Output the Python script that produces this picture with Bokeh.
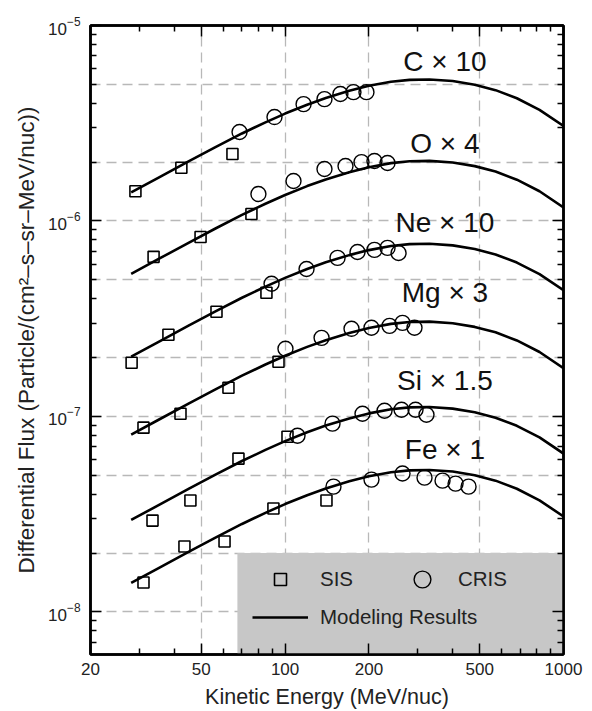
from bokeh.plotting import figure
from bokeh.models import (ColumnDataSource, FixedTicker, LogAxis, BoxAnnotation, Legend,
                          LegendItem, CustomJSTickFormatter, LogTickFormatter, Range1d)
from bokeh.core.properties import value
from bokeh.embed import file_html
from bokeh.resources import INLINE

FONT = "Liberation Sans"

# ---------------- data ----------------
species = ["C", "O", "Ne", "Mg", "Si", "Fe"]
species_labels = ["C \u00d7 10", "O \u00d7 4", "Ne \u00d7 10", "Mg \u00d7 3", "Si \u00d7 1.5", "Fe \u00d7 1"]

# SIS measurements (squares)
sis_energy = {
    "C":  [29.0, 42.4, 64.7],
    "O":  [33.7, 49.7, 75.7],
    "Ne": [28.1, 38.1, 56.7, 85.7],
    "Mg": [31.0, 42.1, 62.6, 94.7],
    "Si": [33.4, 45.7, 68.0, 102.0],
    "Fe": [31.0, 43.5, 60.6, 90.8, 140.8],
}
sis_flux = {
    "C":  [1.42e-6, 1.87e-6, 2.20e-6],
    "O":  [6.55e-7, 8.28e-7, 1.086e-6],
    "Ne": [1.88e-7, 2.615e-7, 3.43e-7, 4.29e-7],
    "Mg": [8.76e-8, 1.032e-7, 1.401e-7, 1.903e-7],
    "Si": [2.93e-8, 3.71e-8, 6.08e-8, 7.87e-8],
    "Fe": [1.413e-8, 2.16e-8, 2.29e-8, 3.38e-8, 3.71e-8],
}

# CRIS measurements (circles)
cris_energy = {
    "C":  [68.6, 91.6, 116.5, 138.5, 158.0, 176.0, 196.0],
    "O":  [80.2, 107.2, 138.5, 164.8, 188.1, 209.4, 233.3],
    "Ne": [89.4, 119.4, 154.3, 182.0, 209.4, 233.3, 255.6],
    "Mg": [100.3, 135.2, 173.2, 204.3, 237.2, 264.1, 291.6],
    "Si": [110.8, 148.0, 189.7, 227.6, 261.9, 294.1, 322.0],
    "Fe": [149.2, 204.3, 264.1, 316.8, 367.7, 409.6, 456.0],
}
cris_flux = {
    "C":  [2.85e-6, 3.40e-6, 3.96e-6, 4.20e-6, 4.46e-6, 4.56e-6, 4.56e-6],
    "O":  [1.374e-6, 1.60e-6, 1.843e-6, 1.91e-6, 2.00e-6, 2.025e-6, 1.978e-6],
    "Ne": [4.77e-7, 5.68e-7, 6.47e-7, 6.94e-7, 7.11e-7, 7.28e-7, 6.86e-7],
    "Mg": [2.218e-7, 2.523e-7, 2.806e-7, 2.84e-7, 2.906e-7, 3.01e-7, 2.84e-7],
    "Si": [7.96e-8, 9.18e-8, 1.032e-7, 1.069e-7, 1.082e-7, 1.082e-7, 1.020e-7],
    "Fe": [4.37e-8, 4.75e-8, 5.10e-8, 4.86e-8, 4.69e-8, 4.53e-8, 4.37e-8],
}

# Modeling results (solid curves)
model_energy = [28, 35, 45, 56, 70, 85, 100, 120, 140, 170,
                200, 240, 280, 330, 400, 480, 570, 680, 820, 1000]
model_flux = {
    "C":  [1.400e-6, 1.662e-6, 2.017e-6, 2.380e-6, 2.803e-6, 3.196e-6, 3.543e-6, 3.934e-6,
           4.256e-6, 4.632e-6, 4.914e-6, 5.157e-6, 5.272e-6, 5.297e-6, 5.196e-6, 4.977e-6,
           4.669e-6, 4.243e-6, 3.703e-6, 3.061e-6],
    "O":  [5.366e-7, 6.370e-7, 7.731e-7, 9.123e-7, 1.0744e-6, 1.2250e-6, 1.3580e-6, 1.5079e-6,
           1.6313e-6, 1.7754e-6, 1.8835e-6, 1.9767e-6, 2.0208e-6, 2.0303e-6, 1.9916e-6,
           1.9077e-6, 1.7896e-6, 1.6263e-6, 1.4194e-6, 1.1733e-6],
    "Ne": [2.021e-7, 2.399e-7, 2.911e-7, 3.435e-7, 4.046e-7, 4.613e-7, 5.114e-7, 5.678e-7,
           6.143e-7, 6.685e-7, 7.092e-7, 7.443e-7, 7.609e-7, 7.645e-7, 7.499e-7, 7.183e-7,
           6.739e-7, 6.124e-7, 5.345e-7, 4.418e-7],
    "Mg": [8.072e-8, 9.583e-8, 1.163e-7, 1.372e-7, 1.616e-7, 1.843e-7, 2.043e-7, 2.268e-7,
           2.454e-7, 2.671e-7, 2.833e-7, 2.974e-7, 3.040e-7, 3.054e-7, 2.996e-7, 2.870e-7,
           2.692e-7, 2.447e-7, 2.135e-7, 1.765e-7],
    "Si": [2.952e-8, 3.505e-8, 4.253e-8, 5.019e-8, 5.911e-8, 6.740e-8, 7.471e-8, 8.296e-8,
           8.975e-8, 9.768e-8, 1.036e-7, 1.088e-7, 1.112e-7, 1.117e-7, 1.096e-7, 1.050e-7,
           9.846e-8, 8.948e-8, 7.809e-8, 6.455e-8],
    "Fe": [1.4066e-8, 1.6698e-8, 2.0265e-8, 2.3912e-8, 2.8162e-8, 3.2110e-8, 3.5597e-8,
           3.9525e-8, 4.2760e-8, 4.6538e-8, 4.9371e-8, 5.1812e-8, 5.2968e-8, 5.3219e-8,
           5.2204e-8, 5.0004e-8, 4.6911e-8, 4.2629e-8, 3.7204e-8, 3.0754e-8],
}

# label anchor positions (energy, flux)
label_energy = [375, 375, 375, 375, 375, 375]
label_flux = [6.57e-6, 2.50e-6, 9.77e-7, 4.29e-7, 1.52e-7, 6.76e-8]

# axis ticks
x_major_ticks = [20, 50, 100, 200, 500, 1000]
x_minor_ticks = [30, 40, 60, 70, 80, 90, 300, 400, 600, 700, 800, 900]
y_major_ticks = [1e-8, 1e-7, 1e-6, 1e-5]
y_minor_ticks = [k * 10.0 ** n for n in (-9, -8, -7, -6) for k in range(2, 10)]
y_grid_ticks = [1e-8, 2e-8, 5e-8, 1e-7, 2e-7, 5e-7, 1e-6, 2e-6, 5e-6]

# ---------------- figure ----------------
p = figure(width=592, height=711, x_axis_type="log", y_axis_type="log",
           x_range=Range1d(20, 1000), y_range=Range1d(6.05e-9, 1e-5),
           output_backend="svg", toolbar_location=None,
           min_border_left=90, min_border_right=29, min_border_top=25, min_border_bottom=57)
p.background_fill_color = "white"
p.border_fill_color = "white"
p.outline_line_color = "black"
p.outline_line_width = 2.5

xt = FixedTicker(ticks=x_major_ticks, minor_ticks=x_minor_ticks)
yt = FixedTicker(ticks=y_major_ticks, minor_ticks=y_minor_ticks)


def style_axis(ax):
    ax.axis_line_width = 2.5
    ax.axis_line_color = "black"
    ax.major_tick_in = 11
    ax.major_tick_out = 0
    ax.minor_tick_in = 6
    ax.minor_tick_out = 0
    ax.major_tick_line_width = 1.5
    ax.minor_tick_line_width = 1.5
    ax.major_label_text_font = FONT
    ax.major_label_text_font_size = "17px"
    ax.major_label_text_color = "#222222"
    ax.axis_label_text_font = FONT
    ax.axis_label_text_font_style = "normal"
    ax.axis_label_text_color = "#222222"


xa = p.xaxis[0]
xa.ticker = xt
xa.formatter = CustomJSTickFormatter(code="return tick.toFixed(0);")
style_axis(xa)
xa.major_label_standoff = 8
xa.axis_label = "Kinetic Energy (MeV/nuc)"
xa.axis_label_text_font_size = "21.5px"
xa.axis_label_standoff = 7

ya = p.yaxis[0]
ya.ticker = yt
ya.formatter = LogTickFormatter()
style_axis(ya)
ya.major_label_standoff = 10
ya.axis_label = "Differential Flux (Particle/(cm\u00b2\u2013s\u2013sr\u2013MeV/nuc))"
ya.axis_label_text_font_size = "22.5px"
ya.axis_label_standoff = 6

for loc, tk in (("right", yt), ("above", xt)):
    ax = LogAxis(ticker=tk, formatter=CustomJSTickFormatter(code="return '';"))
    style_axis(ax)
    ax.major_label_standoff = 0
    p.add_layout(ax, loc)

p.xgrid.ticker = xt
p.ygrid.ticker = FixedTicker(ticks=y_grid_ticks)
for g in (p.xgrid[0], p.ygrid[0]):
    g.grid_line_color = "#b8b8b8"
    g.grid_line_width = 1.3
    g.grid_line_dash = "10 6"

# legend background box
box = BoxAnnotation(left=67.4, top=2e-8, fill_color="#c7c7c7", fill_alpha=1.0,
                    line_alpha=0, level="underlay")
p.add_layout(box)

# ---------------- glyphs ----------------
line_r, sis_r, cris_r = [], [], []
for s in species:
    src_m = ColumnDataSource(dict(E=model_energy, F=model_flux[s]))
    line_r.append(p.line("E", "F", source=src_m, line_color="black", line_width=2.6))
for s in species:
    src_s = ColumnDataSource(dict(E=sis_energy[s], F=sis_flux[s]))
    sis_r.append(p.scatter("E", "F", source=src_s, marker="square", size=11,
                           fill_alpha=0, line_color="black", line_width=1.6))
    src_c = ColumnDataSource(dict(E=cris_energy[s], F=cris_flux[s]))
    cris_r.append(p.scatter("E", "F", source=src_c, marker="circle", size=15,
                            fill_alpha=0, line_color="black", line_width=1.4))

lbl = ColumnDataSource(dict(E=label_energy, F=label_flux, t=species_labels))
p.text("E", "F", text="t", source=lbl, text_font=value(FONT), text_font_size="28px",
       text_align="center", text_baseline="middle", text_color="#111111")


# ---------------- legends ----------------
def make_legend(item, loc, gw, gh):
    lg = Legend(items=[item], location=loc)
    lg.background_fill_alpha = 0
    lg.border_line_alpha = 0
    lg.padding = 0
    lg.margin = 0
    lg.label_text_font = FONT
    lg.label_text_font_size = "20.5px"
    lg.label_text_color = "#222222"
    lg.glyph_width = gw
    lg.glyph_height = gh
    lg.label_standoff = 12
    return lg


p.add_layout(make_legend(LegendItem(label="SIS", renderers=[sis_r[0]]), (162, 60), 56, 30))
p.add_layout(make_legend(LegendItem(label="CRIS", renderers=[cris_r[0]]), (308, 54), 48, 42))
p.add_layout(make_legend(LegendItem(label="Modeling Results", renderers=[line_r[0]]),
                         (162, 25), 56, 24))

open("out.html", "w").write(file_html(p, INLINE))
